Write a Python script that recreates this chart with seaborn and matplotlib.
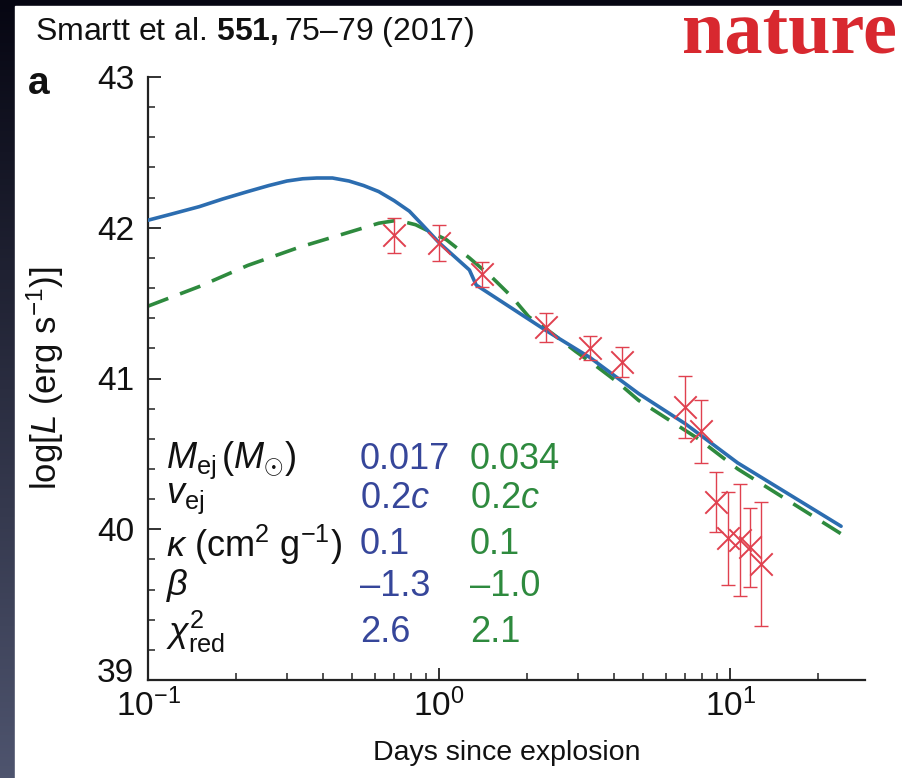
import numpy as np
import pandas as pd
import matplotlib
matplotlib.use("Agg")
import matplotlib.pyplot as plt
import matplotlib.transforms as mtransforms
import seaborn as sns
from matplotlib.ticker import MultipleLocator, LogLocator, NullFormatter
from matplotlib.patches import Rectangle

# ---------------- data ----------------
blue_days = [0.10, 0.12, 0.15, 0.18, 0.22, 0.26, 0.30, 0.34, 0.38, 0.43, 0.49, 0.55, 0.62, 0.70, 0.79, 0.875, 1.0, 1.27, 1.34, 2.32, 3.29, 4.84, 7.0, 10.6, 24.0]
blue_logL = [42.05, 42.09, 42.14, 42.19, 42.24, 42.28, 42.31, 42.325, 42.33, 42.33, 42.31, 42.28, 42.24, 42.18, 42.11, 42.02, 41.90, 41.72, 41.62, 41.32, 41.14, 40.90, 40.70, 40.44, 40.02]

green_days = [0.10, 0.15, 0.22, 0.33, 0.49, 0.62, 0.72, 0.83, 1.06, 1.27, 1.52, 1.78, 2.03, 2.44, 2.94, 3.53, 4.13, 4.84, 7.76, 10.6, 24.0]
green_logL = [41.48, 41.61, 41.75, 41.87, 41.97, 42.03, 42.05, 42.02, 41.92, 41.80, 41.67, 41.54, 41.41, 41.30, 41.18, 41.07, 40.97, 40.855, 40.60, 40.40, 39.97]

obs_days = [0.70, 1.00, 1.40, 2.32, 3.29, 4.24, 7.0, 7.95, 8.9, 9.85, 10.8, 11.7, 12.7]
obs_logL = [41.95, 41.90, 41.69, 41.34, 41.205, 41.11, 40.81, 40.65, 40.18, 39.94, 39.93, 39.88, 39.77]
obs_err = [0.115, 0.12, 0.08, 0.095, 0.08, 0.10, 0.205, 0.21, 0.20, 0.31, 0.37, 0.26, 0.41]

param_labels = [r"$M_{\rm ej}\,(M_{\odot})$", r"$v_{\rm ej}$", r"$\kappa$ (cm$^{2}$ g$^{-1}$)", r"$\beta$", r"$\chi^{2}_{\rm red}$"]
blue_params = ["0.017", r"0.2$c$", "0.1", "\u20131.3", "2.6"]
green_params = ["0.034", r"0.2$c$", "0.1", "\u20131.0", "2.1"]

y_ticks = [39, 40, 41, 42, 43]

# ---------------- style ----------------
sns.set_theme(style="ticks")
plt.rcParams["font.family"] = ["Liberation Sans", "DejaVu Sans"]
plt.rcParams["mathtext.fontset"] = "custom"
plt.rcParams["mathtext.rm"] = "Liberation Sans"
plt.rcParams["mathtext.it"] = "Liberation Sans:italic"
plt.rcParams["mathtext.bf"] = "Liberation Sans:bold"
plt.rcParams["axes.unicode_minus"] = True

BLUE_LINE = "#2c6db0"
GREEN_LINE = "#2e8a3e"
BLUE_TXT = "#36469a"
GREEN_TXT = "#2e8a3e"
RED = "#e0414f"

W, H = 902, 778
fig = plt.figure(figsize=(W / 100, H / 100), dpi=100)

# background: dark slide edge + white panel
bg = fig.add_axes([0, 0, 1, 1], zorder=-10)
top_c = np.array([6, 6, 18]) / 255
bot_c = np.array([78, 84, 110]) / 255
grad = np.linspace(0, 1, 256)[:, None, None]
img = top_c * (1 - grad) + bot_c * grad
bg.imshow(img, extent=[0, W, H, 0], aspect="auto")
bg.add_patch(Rectangle((15, 6), W - 15, H - 6, color="white"))
bg.set_xlim(0, W)
bg.set_ylim(H, 0)
bg.axis("off")


def fx(px):
    return px / W


def fy(py):
    return 1 - py / H


ax = fig.add_axes([fx(148), fy(680), fx(865) - fx(148), fy(77) - fy(680)])
ax.patch.set_alpha(0)

blue_df = pd.DataFrame({"days": blue_days, "logL": blue_logL})
green_df = pd.DataFrame({"days": green_days, "logL": green_logL})
obs_df = pd.DataFrame({"days": obs_days, "logL": obs_logL, "err": obs_err})

ax.set_xscale("log")
sns.lineplot(data=green_df, x="days", y="logL", ax=ax, color=GREEN_LINE, lw=2.6,
             linestyle=(0, (6, 3.5)), sort=False, zorder=2)
sns.lineplot(data=blue_df, x="days", y="logL", ax=ax, color=BLUE_LINE, lw=2.6,
             sort=False, zorder=3)
ax.errorbar(obs_df["days"], obs_df["logL"], yerr=obs_df["err"], fmt="none",
            ecolor=RED, elinewidth=1.0, capsize=5, capthick=1.0, zorder=4)
sns.scatterplot(data=obs_df, x="days", y="logL", ax=ax, marker="x", s=260,
                color=RED, linewidth=1.4, zorder=5)

ax.set_xlim(0.1, 29)
ax.set_ylim(39, 43)
ax.set_yticks(y_ticks)
ax.yaxis.set_minor_locator(MultipleLocator(0.2))
ax.xaxis.set_major_locator(LogLocator(base=10, numticks=10))
ax.xaxis.set_minor_locator(LogLocator(base=10, subs=np.arange(2, 10), numticks=20))
ax.xaxis.set_minor_formatter(NullFormatter())

for side in ["top", "right"]:
    ax.spines[side].set_visible(False)
for side in ["left", "bottom"]:
    ax.spines[side].set_linewidth(1.6)
    ax.spines[side].set_color("#222222")

ax.tick_params(which="major", direction="in", length=9, width=1.3, colors="#222222",
               labelsize=24, labelcolor="#111111")
ax.tick_params(which="minor", direction="in", length=5, width=1.1, colors="#222222")
ax.tick_params(axis="x", which="major", pad=6)
ax.tick_params(axis="y", which="major", pad=10)

# lift the lowest y tick label so it sits above the 10^-1 label, as in the reference
lowest_tick = ax.yaxis.get_major_ticks()[0]
lowest_tick.label1.set_transform(lowest_tick.label1.get_transform() +
                                 mtransforms.ScaledTranslation(0, 10 / 100, fig.dpi_scale_trans))

ax.set_xlabel("Days since explosion", fontsize=20.5, color="#111111", labelpad=12)
ax.set_ylabel(r"log[$L$ (erg s$^{-1}$)]", fontsize=25, color="#111111", labelpad=22)

# parameter table
row_y = [460, 498, 545, 586, 632]
for lab, bp, gp, py in zip(param_labels, blue_params, green_params, row_y):
    fig.text(fx(166), fy(py), lab, fontsize=26, color="#111111", va="center", ha="left")
    fig.text(fx(360), fy(py), bp, fontsize=26, color=BLUE_TXT, va="center", ha="left")
    fig.text(fx(470), fy(py), gp, fontsize=26, color=GREEN_TXT, va="center", ha="left")

# header texts
fig.text(fx(35), fy(32), r"Smartt et al. $\mathbf{551,}$" + "75\u201379 (2017)", fontsize=23,
         color="#111111", va="center", ha="left")
fig.text(fx(897), fy(53), "nature", fontsize=55, fontweight="bold", color="#d8282f",
         va="baseline", ha="right", family=["Liberation Serif", "DejaVu Serif"])
fig.text(fx(28), fy(84), "a", fontsize=28, fontweight="bold", color="#111111",
         va="center", ha="left")

fig.savefig("out.png", dpi=100)
